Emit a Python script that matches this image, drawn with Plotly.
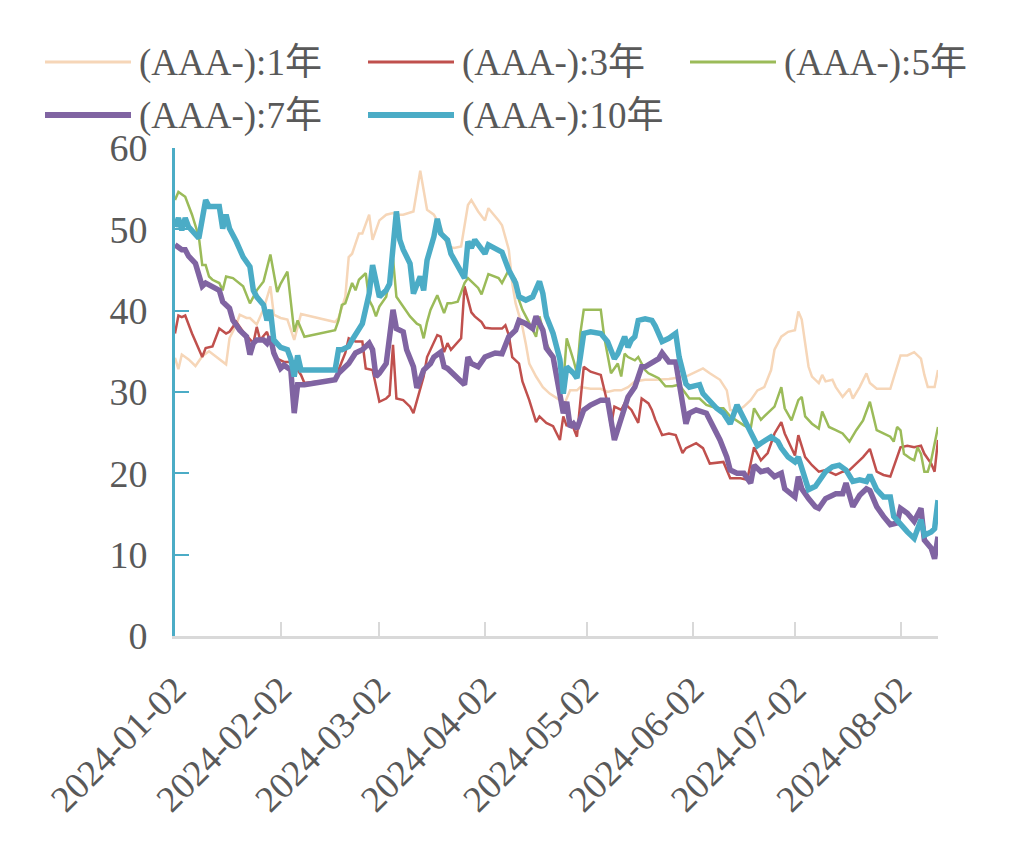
import plotly.graph_objects as go
import pandas as pd

START = pd.Timestamp("2024-01-02")

series_names = ["(AAA-):1年", "(AAA-):3年", "(AAA-):5年", "(AAA-):7年", "(AAA-):10年"]

# day offsets counted from 2024-01-02, and spread values (bp)
days_1y = [0, 1, 2, 4, 6, 8, 10, 12, 13, 15, 16, 18, 19, 21, 22, 24, 26, 28, 29, 31, 33, 35, 37, 38,
           47, 48, 50, 51, 52, 54, 55, 57, 58, 60, 62, 64, 65, 67, 70, 72, 74, 76, 78, 80, 82, 84,
           86, 87, 89, 91, 92, 95, 96, 98, 99, 100, 102, 103, 104, 106, 108, 110, 113, 114, 116, 118,
           119, 122, 125, 127, 129, 131, 133, 135, 138, 141, 145, 150, 152, 155, 157, 160, 162, 163,
           165, 167, 169, 171, 173, 175, 176, 178, 180, 182, 183, 184, 185, 186, 187, 189, 190, 191,
           193, 194, 196, 198, 199, 201, 203, 204, 206, 208, 210, 213, 215, 217, 219, 220, 221, 223, 224]
vals_1y = [34.2, 32.8, 34.6, 34.0, 33.2, 34.4, 35.0, 34.4, 34.0, 33.4, 36.6, 38.3, 39.5, 39.1, 39.1, 38.3,
           40.2, 43.0, 39.5, 39.1, 38.9, 36.4, 39.6, 39.5, 38.6, 39.1, 41.7, 46.6, 47.0, 49.5, 49.5, 51.8,
           48.7, 51.1, 51.8, 52.0, 51.8, 51.8, 52.2, 57.2, 52.4, 51.8, 50.3, 47.9, 47.7, 47.9, 53.0, 53.6,
           52.2, 51.1, 52.6, 51.1, 50.5, 47.5, 43.4, 40.9, 38.0, 35.9, 33.5, 31.9, 30.6, 29.8, 29.0, 28.2,
           30.2, 30.2, 30.6, 30.4, 30.4, 30.0, 30.2, 30.2, 30.6, 31.3, 31.5, 31.5, 31.6, 31.9, 32.3, 32.9,
           32.3, 31.5, 30.2, 27.8, 27.6, 28.2, 29.0, 30.2, 30.6, 32.7, 35.2, 36.8, 37.4, 37.6, 39.9, 38.9,
           36.0, 33.1, 31.9, 31.1, 32.1, 31.3, 31.5, 30.6, 29.4, 30.4, 29.2, 30.6, 32.3, 31.1, 30.4, 30.4,
           30.4, 34.5, 34.5, 34.9, 34.1, 32.1, 30.6, 30.6, 32.7]

days_3y = [0, 1, 2, 3, 5, 7, 8, 9, 11, 13, 15, 16, 18, 20, 23, 24, 25, 27, 28, 30, 32, 34, 35, 36, 37, 38,
           47, 48, 50, 51, 53, 55, 56, 58, 60, 62, 63, 64, 65, 67, 69, 70, 71, 73, 74, 77, 78, 79, 80, 81,
           84, 85, 87, 88, 90, 91, 93, 96, 97, 98, 99, 101, 102, 104, 106, 107, 109, 111, 113, 114, 115,
           116, 118, 120, 122, 125, 127, 128, 129, 131, 132, 134, 136, 137, 139, 140, 141, 143, 145, 147,
           149, 150, 153, 155, 157, 160, 161, 163, 166, 168, 170, 172, 174, 176, 178, 179, 182, 183, 185,
           187, 189, 191, 194, 196, 198, 200, 202, 204, 206, 208, 210, 213, 215, 217, 219, 220, 222, 223, 224]
vals_3y = [37.2, 39.4, 39.2, 39.4, 37.2, 35.2, 34.3, 35.4, 35.6, 37.8, 37.2, 37.4, 38.6, 37.4, 36.0, 38.0,
           36.4, 37.4, 36.0, 34.1, 33.7, 33.7, 33.3, 32.7, 32.1, 31.1, 31.5, 32.7, 34.8, 36.6, 36.2, 36.2,
           32.9, 32.7, 28.8, 29.2, 29.6, 35.8, 29.2, 29.0, 28.2, 27.4, 29.0, 31.9, 34.3, 37.0, 36.8, 34.9,
           36.0, 35.2, 36.6, 43.0, 39.8, 39.3, 38.6, 37.9, 37.8, 37.8, 38.2, 37.0, 34.3, 33.5, 31.3, 29.0,
           26.3, 27.0, 26.2, 25.8, 24.1, 27.0, 25.8, 26.6, 24.5, 33.1, 32.5, 32.1, 28.6, 25.8, 28.2, 27.8,
           28.6, 27.8, 26.2, 29.2, 28.6, 27.8, 26.6, 24.7, 24.9, 24.7, 22.5, 23.1, 23.7, 23.1, 21.2, 21.4,
           21.4, 19.4, 19.4, 19.2, 23.2, 21.6, 22.5, 24.9, 26.3, 24.9, 22.2, 24.7, 22.0, 21.0, 20.2, 20.4,
           19.8, 20.2, 20.4, 21.2, 22.0, 23.0, 20.2, 19.8, 19.6, 23.2, 23.4, 23.2, 23.4, 22.4, 21.2, 20.2, 24.1]

days_5y = [0, 1, 3, 5, 7, 8, 9, 10, 11, 13, 14, 15, 17, 20, 22, 24, 26, 28, 30, 31, 33, 35, 36, 38, 47,
           48, 49, 50, 52, 53, 54, 56, 57, 58, 59, 60, 62, 64, 65, 67, 69, 71, 72, 73, 74, 75, 77, 79, 80,
           81, 83, 85, 86, 87, 89, 90, 92, 95, 96, 98, 100, 101, 102, 104, 106, 107, 109, 111, 113, 114,
           115, 117, 118, 119, 120, 122, 125, 126, 128, 130, 131, 132, 133, 135, 136, 138, 139, 140, 142,
           144, 146, 148, 151, 154, 156, 159, 161, 163, 165, 167, 169, 170, 172, 174, 176, 178, 179, 181,
           183, 184, 185, 187, 189, 190, 192, 194, 196, 198, 200, 202, 204, 206, 208, 210, 211, 212, 213,
           214, 216, 217, 218, 219, 220, 221, 222, 223, 224]
vals_5y = [53.6, 54.6, 54.0, 51.8, 49.1, 45.6, 45.6, 44.2, 43.8, 43.4, 42.5, 44.2, 44.0, 43.0, 40.9, 42.5,
           43.6, 46.9, 42.3, 43.3, 44.8, 37.4, 38.8, 36.8, 37.6, 38.8, 40.7, 40.9, 43.4, 42.5, 43.8, 44.6,
           41.3, 40.5, 39.3, 40.5, 41.7, 46.4, 41.7, 40.5, 39.3, 38.4, 38.2, 36.6, 38.6, 40.1, 41.9, 39.7,
           40.9, 40.9, 41.1, 43.4, 44.0, 43.6, 42.8, 42.0, 44.5, 44.0, 43.4, 45.0, 43.8, 41.3, 40.1, 38.5,
           36.8, 39.3, 36.0, 34.3, 30.6, 31.1, 36.6, 33.9, 32.3, 37.2, 40.1, 40.1, 40.1, 36.8, 32.3, 33.5,
           31.9, 34.7, 34.3, 33.9, 34.3, 32.7, 32.3, 32.1, 31.7, 30.7, 30.7, 30.9, 29.2, 29.2, 28.4, 28.0,
           28.0, 27.0, 26.4, 25.9, 25.5, 28.0, 26.6, 27.4, 28.2, 30.6, 28.0, 26.5, 29.0, 29.4, 27.0, 26.1,
           25.5, 27.6, 25.7, 25.3, 24.9, 23.9, 25.3, 26.5, 28.8, 25.3, 24.9, 24.5, 23.9, 25.7, 25.3, 22.4,
           21.8, 21.6, 23.2, 22.4, 20.2, 20.2, 21.6, 23.7, 25.7]

days_7y = [0, 2, 3, 4, 6, 7, 8, 9, 11, 13, 14, 16, 17, 19, 21, 22, 23, 24, 26, 27, 28, 29, 31, 32, 34, 35,
           36, 38, 47, 48, 50, 51, 53, 55, 57, 58, 59, 60, 62, 64, 65, 67, 68, 70, 71, 73, 75, 76, 78, 79,
           80, 82, 84, 85, 86, 87, 89, 91, 94, 96, 98, 100, 101, 103, 105, 106, 108, 109, 111, 113, 114,
           115, 116, 117, 118, 120, 122, 125, 127, 129, 130, 132, 133, 135, 137, 138, 140, 142, 143, 145,
           147, 148, 150, 151, 153, 156, 158, 160, 162, 163, 165, 167, 169, 170, 172, 174, 176, 178, 179,
           182, 183, 184, 186, 188, 189, 191, 194, 196, 197, 199, 201, 203, 204, 206, 208, 210, 212, 213,
           215, 217, 219, 220, 222, 223, 224]
vals_7y = [48.1, 47.5, 47.5, 46.7, 45.8, 44.2, 43.0, 43.4, 43.0, 42.5, 41.1, 40.3, 38.8, 37.6, 36.8, 34.6,
           36.0, 36.4, 36.4, 36.0, 36.8, 34.8, 32.9, 33.3, 32.7, 27.4, 30.9, 30.9, 31.5, 32.3, 33.1, 33.5,
           34.8, 35.2, 36.0, 35.2, 31.9, 32.3, 33.5, 40.1, 37.8, 37.4, 35.2, 33.1, 30.5, 32.7, 33.5, 34.3,
           34.9, 33.1, 32.9, 32.1, 31.3, 30.9, 34.3, 33.5, 33.1, 34.3, 34.8, 34.7, 36.8, 37.6, 38.8, 38.4,
           37.8, 39.3, 37.6, 35.4, 34.3, 29.0, 27.4, 28.8, 25.7, 26.1, 25.5, 27.8, 28.4, 29.0, 29.0, 24.1,
           25.3, 28.0, 29.4, 30.6, 33.1, 33.1, 33.7, 34.1, 34.8, 33.7, 33.7, 31.1, 26.1, 27.4, 27.8, 27.4,
           25.7, 24.1, 22.0, 20.4, 20.0, 20.0, 18.8, 21.0, 20.2, 20.4, 19.6, 20.0, 18.1, 17.1, 19.6, 18.1,
           16.9, 15.9, 15.7, 16.9, 17.5, 17.5, 18.8, 15.9, 17.3, 18.1, 17.9, 15.9, 14.7, 13.7, 13.9, 15.7,
           15.1, 14.1, 15.7, 11.8, 10.8, 9.5, 12.2]

days_10y = [0, 1, 2, 3, 4, 7, 9, 10, 13, 14, 15, 16, 18, 20, 22, 23, 24, 26, 27, 28, 29, 31, 33, 34, 35,
            36, 37, 47, 48, 49, 51, 52, 55, 57, 58, 59, 60, 62, 63, 65, 66, 67, 69, 70, 72, 73, 74, 76,
            77, 78, 80, 81, 83, 85, 86, 87, 88, 91, 92, 95, 96, 98, 100, 101, 103, 105, 107, 108, 109,
            111, 113, 114, 115, 117, 118, 119, 120, 122, 125, 127, 129, 130, 132, 133, 134, 135, 136,
            138, 140, 141, 143, 145, 147, 148, 150, 151, 154, 155, 157, 159, 161, 163, 165, 166, 168,
            169, 171, 172, 175, 177, 178, 180, 182, 183, 185, 186, 188, 190, 191, 193, 195, 197, 199,
            201, 203, 204, 206, 208, 210, 211, 213, 215, 217, 219, 220, 222, 223, 224]
vals_10y = [50.3, 51.4, 49.9, 51.4, 50.3, 48.9, 53.6, 52.8, 52.8, 50.1, 51.8, 50.1, 48.5, 46.6, 45.4, 42.5,
            41.7, 40.7, 38.8, 40.1, 36.4, 35.5, 35.2, 34.1, 31.9, 34.5, 32.7, 32.7, 35.2, 35.2, 35.6, 36.4,
            38.4, 42.1, 45.6, 43.3, 41.7, 42.5, 43.3, 52.2, 48.7, 47.5, 45.8, 42.1, 44.2, 42.5, 46.2, 49.1,
            51.3, 49.5, 48.7, 47.0, 45.4, 44.0, 48.5, 47.7, 48.7, 47.0, 48.1, 47.5, 47.2, 45.0, 43.4, 41.7,
            41.3, 41.7, 43.6, 42.1, 39.3, 37.2, 34.0, 29.8, 33.1, 32.3, 31.7, 34.3, 37.2, 37.4, 37.2, 36.2,
            34.1, 34.7, 36.8, 35.5, 36.4, 36.8, 38.8, 39.0, 38.8, 38.1, 36.2, 36.6, 37.2, 34.3, 31.0, 30.6,
            30.9, 29.8, 28.8, 28.0, 27.4, 26.1, 28.4, 27.6, 26.1, 25.1, 23.4, 23.7, 24.5, 23.9, 23.1, 22.0,
            21.4, 22.0, 19.0, 18.0, 18.4, 19.6, 20.2, 20.8, 21.0, 20.4, 19.0, 19.2, 19.0, 19.8, 18.0, 17.1,
            17.1, 14.7, 13.7, 12.8, 12.0, 14.3, 12.4, 12.8, 13.2, 16.7]

month_ticks = ["2024-01-02", "2024-02-02", "2024-03-02", "2024-04-02",
               "2024-05-02", "2024-06-02", "2024-07-02", "2024-08-02"]
y_ticks = [0, 10, 20, 30, 40, 50, 60]

series_days = [days_1y, days_3y, days_5y, days_7y, days_10y]
series_vals = [vals_1y, vals_3y, vals_5y, vals_7y, vals_10y]
colors = ["#f6d6b8", "#c0504d", "#9bbb59", "#8064a2", "#4bacc6"]
widths = [2.5, 2.5, 2.5, 5.5, 5.5]

# page body has an 8px margin; figure sized to fit the 1018x846 window
PAGE = 8
W, H = 1018 - 2 * PAGE, 846 - 2 * PAGE
X0, X1, Y0, Y1 = 175, 938, 148, 636          # plot area in window pixels
L, T = X0 - PAGE, Y0 - PAGE
R, B = W - (X1 - PAGE), H - (Y1 - PAGE)
PW, PH = X1 - X0, Y1 - Y0
FONT = "Liberation Serif, Times New Roman, Noto Sans CJK SC, serif"
TXT = "#595959"

fig = go.Figure()
for name, d, v, c, w in zip(series_names, series_days, series_vals, colors, widths):
    x = [START + pd.Timedelta(days=k) for k in d]
    fig.add_trace(go.Scatter(x=x, y=v, mode="lines", name=name,
                             line=dict(color=c, width=w), showlegend=False))


def px_x(p):
    return (p - X0) / PW


def px_y(p):
    return (Y1 - p) / PH


# manual legend with long line samples, as in the original
legend_pos = [(45, 62), (368, 62), (690, 62), (45, 115), (368, 115)]
shapes = []
annotations = []
for (lx, ly), name, c, w in zip(legend_pos, series_names, colors, widths):
    shapes.append(dict(type="line", xref="paper", yref="paper",
                       x0=px_x(lx), x1=px_x(lx + 86), y0=px_y(ly), y1=px_y(ly),
                       line=dict(color=c, width=w + 0.5)))
    annotations.append(dict(text=name, xref="paper", yref="paper", x=px_x(lx + 92), y=px_y(ly + 1),
                            xanchor="left", yanchor="middle", showarrow=False,
                            font=dict(family=FONT, size=37, color=TXT)))

fig.update_layout(
    width=W, height=H,
    margin=dict(l=L, r=R, t=T, b=B, autoexpand=False),
    paper_bgcolor="white", plot_bgcolor="white",
    shapes=shapes, annotations=annotations,
    xaxis=dict(type="date", range=[START, START + pd.Timedelta(days=224)],
               tickvals=month_ticks, ticktext=month_ticks, tickangle=-45,
               ticks="inside", ticklen=14, tickcolor="#d9d9d9", tickwidth=2,
               showline=True, linecolor="#d9d9d9", linewidth=3,
               showgrid=False, zeroline=False, ticklabelstandoff=14,
               tickfont=dict(family=FONT, size=37, color=TXT)),
    yaxis=dict(range=[0, 60], tickvals=y_ticks,
               ticks="inside", ticklen=14, tickcolor="#4bacc6", tickwidth=2,
               showline=True, linecolor="#4bacc6", linewidth=3,
               showgrid=False, zeroline=False, ticklabelstandoff=17,
               tickfont=dict(family=FONT, size=38, color=TXT)),
)

fig.write_html("out.html")
